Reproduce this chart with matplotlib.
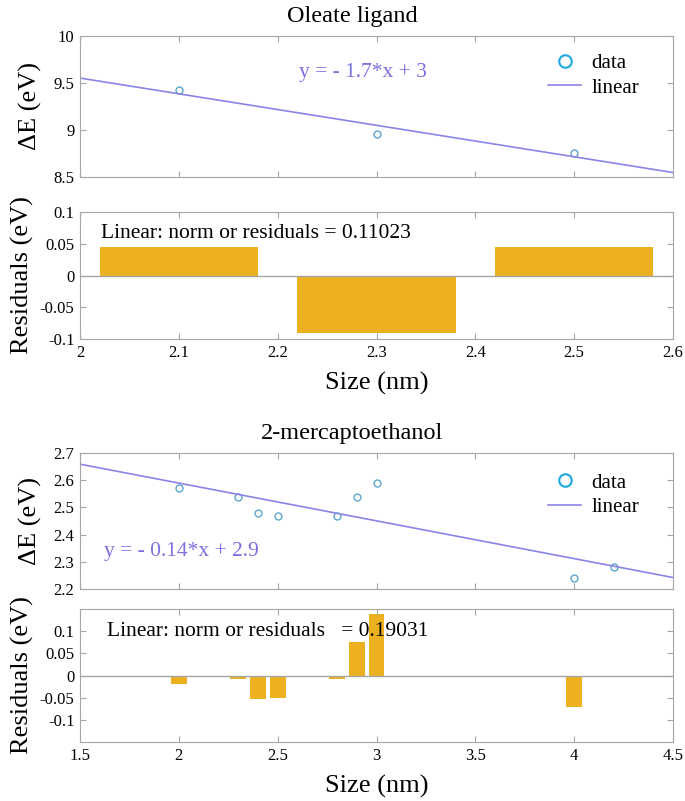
import numpy as np
import matplotlib
matplotlib.use('Agg')
import matplotlib.pyplot as plt

plt.rcParams['font.family'] = ['Liberation Serif', 'DejaVu Serif']

# Oleate ligand data
ole_size = [2.1, 2.3, 2.5]
ole_de = [9.43, 8.96, 8.76]

# 2-mercaptoethanol data
mer_size = [2.0, 2.3, 2.4, 2.5, 2.8, 2.9, 3.0, 4.0, 4.2]
mer_de = [2.57, 2.54, 2.48, 2.47, 2.47, 2.54, 2.59, 2.24, 2.28]

ole_yticks = [8.5, 9, 9.5, 10]
ole_rticks = [-0.1, -0.05, 0, 0.05, 0.1]
ole_xticks = [2, 2.1, 2.2, 2.3, 2.4, 2.5, 2.6]
mer_yticks = [2.2, 2.3, 2.4, 2.5, 2.6, 2.7]
mer_rticks = [-0.1, -0.05, 0, 0.05, 0.1]
mer_xticks = [1.5, 2, 2.5, 3, 3.5, 4, 4.5]

W, H = 685, 801
line_c = '#8a84e6'
bar_c = '#EDB120'
pt_c = '#5aa5d0'
spine_c = '#a6a6a6'


def ax_at(fig, left, top, right, bottom):
    return fig.add_axes([left / W, 1 - bottom / H, (right - left) / W, (bottom - top) / H])


def style(ax):
    for s in ax.spines.values():
        s.set_color(spine_c)
    ax.tick_params(direction='in', top=True, right=True, color=spine_c,
                   labelsize=12, length=4, pad=4)


fig = plt.figure(figsize=(6.85, 8.01), dpi=100)


def panel(x, y, xlim, xticks, ylim, yticks, rlim, rticks, width,
          title, eq, eq_pos, norm_txt, res_px, fit_px, leg_pos):
    coef = np.polyfit(x, y, 1)
    xs = np.array(xlim)
    res = np.array(y) - np.polyval(coef, x)

    ax = ax_at(fig, 80, fit_px[0], 673, fit_px[1])
    ax.plot(x, y, 'o', mfc='none', mec=pt_c, ms=5, mew=1.0, label='_nolegend_')
    ax.plot(xs, np.polyval(coef, xs), color=line_c, lw=1.2, label='linear')
    ax.plot([], [], 'o', mfc='none', mec='#1ea8e0', ms=9, mew=1.5, label='data')
    h, l = ax.get_legend_handles_labels()
    ax.legend([h[1], h[0]], [l[1], l[0]], loc='upper right', frameon=False,
              fontsize=15, handlelength=1.6, handletextpad=0.5,
              labelspacing=0.25, bbox_to_anchor=leg_pos)
    ax.set_xlim(xlim)
    ax.set_ylim(ylim)
    ax.set_xticks(xticks)
    ax.set_xticklabels([])
    ax.set_yticks(yticks)
    ax.set_yticklabels([f'{t:g}' for t in yticks])
    ax.set_ylabel('ΔE (eV)', fontsize=19, labelpad=8)
    ax.set_title(title, fontsize=17.5, pad=10, x=(352 - 80) / 593)
    ax.text(eq_pos[0], eq_pos[1], eq, color='#7a70e0', fontsize=15.5,
            transform=ax.transAxes)
    style(ax)

    rx = ax_at(fig, 80, res_px[0], 673, res_px[1])
    rx.bar(x, res, width=width, color=bar_c)
    rx.axhline(0, color=spine_c, lw=1.0)
    rx.set_xlim(xlim)
    rx.set_ylim(rlim)
    rx.set_xticks(xticks)
    rx.set_xticklabels([f'{t:g}' for t in xticks])
    rx.set_yticks(rticks)
    rx.set_yticklabels([f'{t:g}' for t in rticks])
    rx.set_ylabel('Residuals (eV)', fontsize=19, labelpad=4)
    rx.set_xlabel('Size (nm)', fontsize=19, labelpad=8)
    rx.text(norm_txt[1][0], norm_txt[1][1], norm_txt[0], fontsize=15.5,
            transform=rx.transAxes, va='center')
    style(rx)


panel(ole_size, ole_de, (2, 2.6), ole_xticks, (8.5, 10), ole_yticks,
      (-0.1, 0.1), ole_rticks, 0.16, 'Oleate ligand', 'y = - 1.7*x + 3',
      (0.37, 0.71), ('Linear: norm or residuals = 0.11023', (0.035, 0.83)),
      (212, 339), (36, 177), (0.975, 1.01))

panel(mer_size, mer_de, (1.5, 4.5), mer_xticks, (2.2, 2.7), mer_yticks,
      (-0.15, 0.15), mer_rticks, 0.08, '2-mercaptoethanol', 'y = - 0.14*x + 2.9',
      (0.04, 0.245), ('Linear: norm or residuals   = 0.19031', (0.045, 0.83)),
      (609, 742), (453, 589), (0.975, 0.99))

fig.savefig('out.png', dpi=100)
